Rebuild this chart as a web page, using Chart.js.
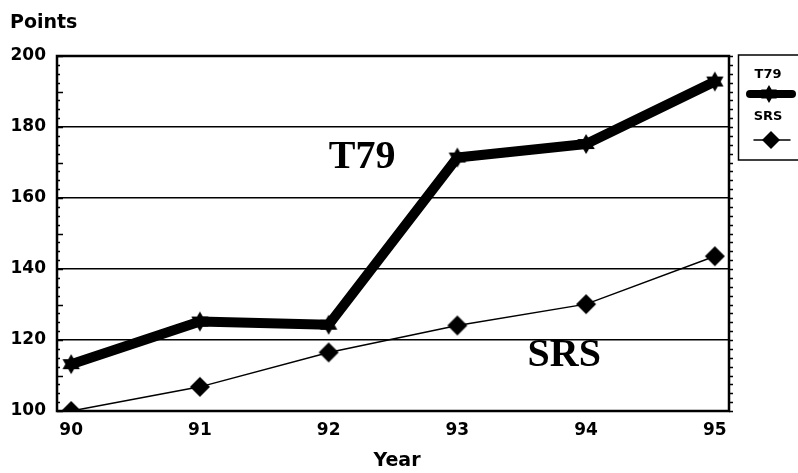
<!DOCTYPE html>
<html>
<head>
<meta charset="UTF-8">
<title>T79 / SRS points</title>
<style>
  html, body { margin: 0; padding: 0; background: #fff; }
</style>
</head>
<body>
<canvas id="myChart" width="798" height="473"></canvas>

<script src="https://cdn.jsdelivr.net/npm/chart.js@4.4.0/dist/chart.umd.min.js"></script>
<script>
var years = [90, 91, 92, 93, 94, 95];
var t79 = [113.2, 125.2, 124.3, 171.4, 175.2, 192.8];
var srs = [100, 106.8, 116.5, 124.1, 130.1, 143.6];
var yTicks = [100, 120, 140, 160, 180, 200];
var seriesNames = ['T79', 'SRS'];
// labels written inside the plot: text, x value, baseline y value
var notes = [['T79', 92.26, 168.5], ['SRS', 93.83, 112.7]];

var sans = '"DejaVu Sans", Verdana, sans-serif';

function starImg(r) {
  var c = document.createElement('canvas');
  var s = Math.ceil(r * 2 + 2);
  c.width = s; c.height = s;
  var g = c.getContext('2d');
  g.translate(s / 2, s / 2);
  g.beginPath();
  for (var i = 0; i < 12; i++) {
    var a = -Math.PI / 2 + i * Math.PI / 6;
    var rr = i % 2 ? r * 0.58 : r;
    g.lineTo(Math.cos(a) * rr, Math.sin(a) * rr);
  }
  g.closePath();
  g.fillStyle = '#000';
  g.fill();
  return c;
}

function diamondImg(r) {
  var c = document.createElement('canvas');
  var s = Math.ceil(r * 2 + 2);
  c.width = s; c.height = s;
  var g = c.getContext('2d');
  g.translate(s / 2, s / 2);
  g.beginPath();
  g.moveTo(0, -r); g.lineTo(r, 0); g.lineTo(0, r); g.lineTo(-r, 0);
  g.closePath();
  g.fillStyle = '#000';
  g.fill();
  return c;
}

var star = starImg(10);
var diamond = diamondImg(10);
var starSmall = starImg(9);
var diamondSmall = diamondImg(9);

var extras = {
  id: 'extras',
  afterDatasetsDraw: function (chart) {
    var ctx = chart.ctx, x = chart.scales.x, y = chart.scales.y;
    ctx.save();
    ctx.fillStyle = '#000';
    ctx.font = 'bold 40px "Liberation Serif", "Times New Roman", serif';
    ctx.textAlign = 'center';
    ctx.textBaseline = 'alphabetic';
    notes.forEach(function (n) {
      ctx.fillText(n[0], x.getPixelForValue(n[1]), y.getPixelForValue(n[2]));
    });
    ctx.restore();
  },
  afterDraw: function (chart) {
    var ctx = chart.ctx, a = chart.chartArea, y = chart.scales.y;
    ctx.save();
    ctx.strokeStyle = '#000';
    // frame
    ctx.lineWidth = 2.5;
    ctx.strokeRect(a.left, a.top, a.right - a.left, a.bottom - a.top);
    // small ticks on both sides
    ctx.lineWidth = 1.5;
    ctx.beginPath();
    for (var v = 100; v <= 200; v += 2.5) {
      var py = Math.round(y.getPixelForValue(v)) + 0.5;
      var len = v % 10 === 0 ? 6 : 3;
      ctx.moveTo(a.left, py); ctx.lineTo(a.left + len, py);
      ctx.moveTo(a.right, py); ctx.lineTo(a.right + 4, py);
    }
    ctx.stroke();

    // axis titles
    ctx.fillStyle = '#000';
    ctx.font = 'bold 19px ' + sans;
    ctx.textAlign = 'left';
    ctx.textBaseline = 'middle';
    ctx.fillText('Points', 10, 23);
    ctx.textAlign = 'center';
    ctx.fillText('Year', 397, 461);

    // legend box
    ctx.lineWidth = 1.5;
    ctx.strokeRect(738.5, 55, 70, 105);
    ctx.font = 'bold 13px ' + sans;
    ctx.textAlign = 'center';
    ctx.fillText(seriesNames[0], 768, 75);
    ctx.fillText(seriesNames[1], 768, 117);
    ctx.lineCap = 'round';
    ctx.lineWidth = 8;
    ctx.beginPath(); ctx.moveTo(750, 94); ctx.lineTo(792, 94); ctx.stroke();
    ctx.drawImage(starSmall, 769 - starSmall.width / 2, 94 - starSmall.height / 2);
    ctx.lineWidth = 1.5;
    ctx.beginPath(); ctx.moveTo(754, 140); ctx.lineTo(790, 140); ctx.stroke();
    ctx.drawImage(diamondSmall, 771 - diamondSmall.width / 2, 140 - diamondSmall.height / 2);
    ctx.restore();
  }
};

var ctx = document.getElementById('myChart').getContext('2d');
var chart = new Chart(ctx, {
  type: 'line',
  data: {
    datasets: [
      { label: seriesNames[1]
      , data: years.map(function (yr, i) { return { x: yr, y: srs[i] }; })
      , borderColor: '#000'
      , borderWidth: 1.5
      , pointStyle: diamond
      , pointRadius: 10
      , tension: 0
      , clip: { left: 15, top: 15, right: 15, bottom: 0 } },
      { label: seriesNames[0]
      , data: years.map(function (yr, i) { return { x: yr, y: t79[i] }; })
      , borderColor: '#000'
      , borderWidth: 10
      , borderJoinStyle: 'round'
      , borderCapStyle: 'round'
      , pointStyle: star
      , pointRadius: 10
      , tension: 0
      , clip: { left: 15, top: 15, right: 15, bottom: 0 } }
    ]
  },
  options: {
    responsive: false,
    animation: false,
    layout: { padding: { top: 56, right: 69, left: 0, bottom: 0 } },
    plugins: { legend: { display: false }, tooltip: { enabled: false } },
    scales: {
      x: {
        type: 'linear',
        min: 89.89,
        max: 95.11,
        afterBuildTicks: function (s) { s.ticks = years.map(function (v) { return { value: v }; }); },
        afterFit: function (s) { s.height = 62; },
        grid: { display: false },
        border: { display: true, color: '#000', width: 2 },
        ticks: { color: '#000', padding: 1, font: { family: sans, size: 17, weight: 'bold' } }
      },
      y: {
        min: 100,
        max: 200,
        afterBuildTicks: function (s) { s.ticks = yTicks.map(function (v) { return { value: v }; }); },
        afterFit: function (s) { s.width = 57; },
        grid: { color: '#000', lineWidth: 1.5, drawTicks: false },
        border: { display: true, color: '#000', width: 2 },
        ticks: { color: '#000', padding: 11, font: { family: sans, size: 17, weight: 'bold' } }
      }
    }
  },
  plugins: [extras]
});
</script>
</body>
</html>
